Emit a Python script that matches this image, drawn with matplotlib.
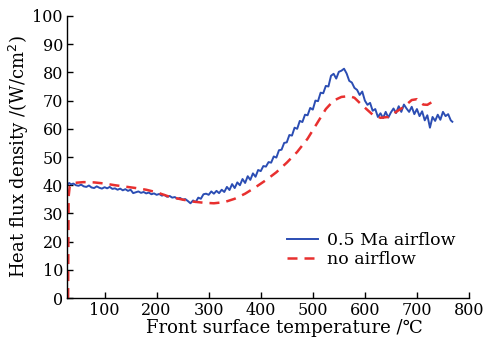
import matplotlib
matplotlib.use("Agg")
import matplotlib.pyplot as plt

# 0.5 Ma airflow (blue, noisy)
blue_T = [28, 32, 36, 40, 45, 50, 55, 60, 65, 70, 75, 80, 85, 90, 95, 100, 105, 110, 115, 120,
          125, 130, 135, 140, 145, 150, 155, 160, 165, 170, 175, 180, 185, 190, 195, 200, 205,
          210, 215, 220, 225, 230, 235, 240, 245, 250, 255, 260, 265, 270, 275, 280, 285, 290,
          295, 300, 305, 310, 315, 320, 325, 330, 335, 340, 345, 350, 355, 360, 365, 370, 375,
          380, 385, 390, 395, 400, 405, 410, 415, 420, 425, 430, 435, 440, 445, 450, 455, 460,
          465, 470, 475, 480, 485, 490, 495, 500, 505, 510, 515, 520, 525, 530, 535, 540, 545,
          550, 555, 560, 565, 570, 575, 580, 585, 590, 595, 600, 605, 610, 615, 620, 625, 630,
          635, 640, 645, 650, 655, 660, 665, 670, 675, 680, 685, 690, 695, 700, 705, 710, 715,
          720, 725, 730, 735, 740, 745, 750, 755, 760, 765, 768]
blue_v = [40.0, 40.8, 40.3, 40.6, 40.0, 39.8, 40.2, 39.6, 39.4, 39.9, 39.2, 39.0, 39.6, 39.1,
          38.8, 39.3, 38.9, 39.4, 38.7, 38.9, 38.4, 38.8, 38.2, 38.6, 38.0, 38.4, 37.2, 37.5,
          37.8, 37.3, 37.6, 37.1, 37.4, 36.8, 37.1, 36.6, 36.9, 36.3, 36.6, 35.9, 36.2, 35.6,
          35.8, 35.2, 35.5, 34.9, 35.1, 34.4, 33.6, 34.6, 34.0, 35.6, 35.2, 36.8, 37.0, 36.6,
          37.8, 37.0, 38.0, 37.2, 38.4, 37.6, 39.4, 38.3, 40.4, 39.0, 41.0, 40.0, 42.2, 40.8,
          43.2, 41.9, 44.2, 43.0, 45.4, 45.0, 46.8, 46.6, 48.2, 48.0, 50.2, 49.8, 52.4, 52.6,
          55.0, 55.2, 57.8, 57.6, 60.4, 60.0, 62.8, 62.4, 65.0, 64.8, 67.4, 66.8, 70.0, 69.8,
          72.8, 72.6, 75.2, 75.0, 78.8, 79.5, 77.8, 80.2, 80.6, 81.3, 79.6, 77.0, 76.4, 74.5,
          73.8, 72.0, 73.2, 70.0, 68.5, 69.2, 66.4, 67.0, 64.2, 65.5, 63.8, 66.0, 64.0, 65.8,
          67.2, 65.6, 68.0, 66.0, 68.6, 67.2, 66.0, 67.8, 65.2, 67.0, 64.5, 66.2, 63.0, 64.8,
          60.4, 64.2, 62.8, 65.0, 63.2, 66.0, 64.5, 65.2, 63.0, 62.5]

# no airflow (red dashed, smooth)
red_T = [30, 30.5, 31, 33, 40, 60, 80, 100, 120, 140, 160, 180, 200, 225, 250, 270, 290, 310,
         330, 350, 370, 390, 410, 430, 450, 470, 490, 510, 525, 540, 555, 570, 580, 590, 600,
         615, 630, 645, 660, 675, 690, 700, 712, 720, 730]
red_v = [0, 20, 36, 39.5, 40.8, 41.1, 41.0, 40.6, 40.0, 39.5, 39.0, 38.4, 37.5, 35.9, 34.9,
         34.2, 33.8, 33.6, 34.0, 35.2, 37.0, 39.3, 41.8, 44.6, 48.0, 51.8, 56.5, 62.5, 67.0,
         70.0, 71.3, 71.6, 71.0, 69.2, 67.5, 65.0, 63.9, 64.2, 66.0, 67.8, 70.2, 70.5, 68.6,
         68.5, 69.6]

x_ticks = [100, 200, 300, 400, 500, 600, 700, 800]
y_ticks = [0, 10, 20, 30, 40, 50, 60, 70, 80, 90, 100]

plt.rcParams['font.family'] = ['DejaVu Serif', 'DejaVu Sans']
fig = plt.figure(figsize=(4.86, 3.47), dpi=100)
ax = fig.add_axes([0.138, 0.141, 0.827, 0.813])

ax.plot(blue_T, blue_v, color='#2b4db3', lw=1.4, label='0.5 Ma airflow')
ax.plot(red_T, red_v, color='#e8302f', lw=1.8, ls=(0, (4, 2.8)), label='no airflow')

ax.set_xlim(28, 800)
ax.set_ylim(0, 100)
ax.set_xticks(x_ticks)
ax.set_yticks(y_ticks)
ax.tick_params(direction='in', length=4, width=1, labelsize=11.5, pad=3)
for s in ['top', 'right']:
    ax.spines[s].set_visible(False)
for s in ['left', 'bottom']:
    ax.spines[s].set_linewidth(1.0)

ax.set_xlabel('Front surface temperature /\u2103', fontsize=13, labelpad=0)
ax.xaxis.set_label_coords(0.54, -0.075)
ax.set_ylabel('Heat flux density /(W/cm$^2$)', fontsize=13, labelpad=1)

ax.legend(loc='lower right', bbox_to_anchor=(1.005, 0.05), frameon=False, fontsize=12.5,
          handlelength=1.8, handletextpad=0.5, labelspacing=0.15)

fig.savefig('out.png', dpi=100)
